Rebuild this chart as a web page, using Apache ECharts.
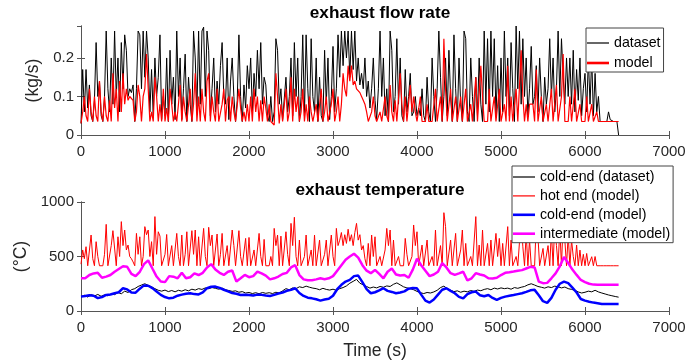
<!DOCTYPE html>
<html><head><meta charset="utf-8">
<script src="https://cdn.jsdelivr.net/npm/echarts@6.0.0/dist/echarts.min.js"></script>
<style>html,body{margin:0;padding:0;background:#fff}#c{width:699px;height:364px}</style>
</head><body><div id="c"></div>
<script>
// ---------------- data ----------------
// exhaust flow rate (kg/s), one value every 20 s; dataset ends with a drop to 0 at 6400 s
const flowStep = 20;
const flowDataset = [
.03,.17,.06,.17,.07,.13,.05,.035,.09,.24,
.1,.14,.05,.035,.1,.27,.12,.06,.2,.08,
.27,.1,.2,.06,.24,.12,.26,.22,.1,.12,
.11,.13,.035,.12,.27,.26,.12,.27,.15,.27,
.2,.06,.17,.05,.2,.1,.15,.26,.04,.1,
.05,.2,.035,.22,.08,.15,.04,.27,.1,.2,
.04,.12,.21,.035,.15,.08,.035,.27,.2,.06,
.27,.08,.27,.28,.1,.27,.22,.05,.12,.2,
.06,.14,.08,.18,.24,.1,.08,.2,.04,.14,
.2,.1,.035,.09,.26,.1,.035,.13,.07,.18,
.12,.2,.06,.16,.1,.22,.12,.24,.08,.15,
.13,.05,.035,.1,.035,.06,.25,.22,.08,.12,
.04,.035,.15,.06,.1,.2,.05,.24,.1,.2,
.035,.1,.26,.05,.26,.12,.035,.25,.1,.06,
.2,.035,.15,.05,.035,.22,.08,.2,.04,.1,
.23,.06,.12,.26,.15,.27,.18,.27,.2,.27,
.15,.27,.17,.27,.14,.2,.13,.16,.12,.2,
.1,.14,.07,.12,.2,.09,.04,.12,.27,.1,
.2,.05,.12,.035,.27,.22,.06,.1,.25,.08,
.2,.05,.035,.17,.06,.1,.16,.05,.06,.1,
.05,.07,.05,.12,.05,.035,.15,.06,.035,.2,
.1,.035,.12,.27,.15,.035,.1,.2,.05,.22,
.1,.035,.26,.12,.035,.2,.08,.035,.27,.25,
.06,.035,.2,.1,.035,.15,.05,.2,.08,.035,
.27,.08,.25,.06,.27,.1,.25,.05,.18,.035,
.2,.06,.27,.1,.2,.05,.24,.12,.035,.283,
.12,.27,.08,.25,.1,.2,.05,.12,.23,.08,
.1,.18,.06,.2,.1,.035,.15,.08,.12,.25,
.1,.2,.06,.12,.27,.1,.25,.15,.08,.2,
.1,.2,.08,.22,.06,.17,.09,.2,.05,.12,
.16,.06,.2,.08,.2,.05,.16,.06,.1,.035,
.035,.035,.035,.035,.06,.04,.035,.035,.035,.035,
.035,0];
const flowModel = [
.03,.06,.1,.05,.035,.12,.06,.035,.1,.05,
.035,.14,.06,.035,.1,.05,.035,.09,.035,.16,
.07,.12,.035,.14,.06,.16,.08,.12,.09,.1,
.095,.09,.035,.06,.13,.1,.035,.1,.12,.21,
.12,.035,.06,.035,.15,.1,.035,.08,.035,.12,
.035,.07,.035,.12,.08,.035,.06,.035,.08,.13,
.035,.1,.06,.035,.035,.12,.035,.08,.16,.035,
.1,.035,.12,.06,.035,.14,.16,.035,.1,.06,
.035,.12,.035,.035,.08,.12,.035,.09,.1,.035,
.1,.06,.035,.035,.12,.07,.035,.06,.035,.08,
.035,.1,.035,.12,.06,.1,.035,.09,.035,.1,
.07,.035,.08,.035,.03,.026,.16,.1,.03,.08,
.035,.035,.12,.035,.06,.15,.035,.12,.06,.1,
.035,.06,.12,.035,.08,.035,.1,.06,.035,.035,
.08,.035,.035,.12,.035,.06,.1,.035,.035,.08,
.12,.035,.06,.1,.035,.08,.16,.12,.1,.18,
.14,.18,.13,.14,.12,.12,.11,.1,.09,.08,
.06,.035,.035,.06,.1,.05,.035,.035,.06,.035,
.035,.1,.05,.035,.13,.06,.035,.09,.035,.035,
.16,.08,.035,.1,.035,.035,.13,.06,.1,.06,
.035,.035,.1,.035,.035,.035,.08,.035,.035,.035,
.035,.12,.035,.035,.1,.035,.25,.12,.035,.035,
.12,.035,.035,.1,.035,.035,.1,.035,.035,.12,
.035,.035,.08,.035,.035,.15,.035,.035,.18,.1,
.035,.035,.035,.12,.035,.035,.1,.035,.035,.12,
.035,.035,.08,.035,.18,.035,.1,.035,.035,.12,
.035,.035,.22,.1,.035,.08,.035,.08,.08,.08,
.035,.17,.035,.035,.1,.035,.035,.08,.035,.035,
.12,.035,.035,.13,.035,.035,.1,.21,.035,.035,
.035,.1,.035,.035,.12,.035,.035,.08,.035,.035,
.035,.1,.035,.035,.08,.035,.035,.06,.035,.035,
.035,.035,.035,.035,.035,.035,.035,.035,.035,.035,
.035];

// exhaust temperature (°C)
const hotStep = 20; // hot end (model), every 20 s
const hotEndModel = [
430,560,480,590,415,415,697,480,415,636,
500,415,415,415,520,795,415,415,600,737,
743,415,681,500,820,600,743,560,605,500,
480,450,415,712,520,681,415,500,774,700,
743,500,636,415,866,520,727,687,415,415,
520,702,415,415,600,415,415,712,500,415,
697,415,520,727,415,415,737,520,743,415,
681,415,415,758,500,415,768,600,697,415,
415,706,415,520,712,415,415,600,415,415,
743,600,415,415,737,500,415,415,666,415,
675,415,415,560,415,415,712,500,415,657,
415,415,415,500,415,758,600,697,415,687,
415,415,727,520,415,804,600,860,500,415,
651,415,415,500,697,415,415,560,415,697,
415,415,651,415,415,520,651,415,415,697,
500,415,758,600,650,720,600,700,620,750,
640,700,600,720,804,650,700,560,600,480,
415,620,415,697,500,681,415,415,500,415,
415,560,758,600,743,415,651,415,415,500,
415,415,415,666,520,415,415,500,789,600,
727,415,415,605,415,415,651,415,415,500,
415,743,415,415,600,415,902,774,415,415,
651,415,415,712,415,415,560,743,415,620,
415,415,500,415,415,866,415,605,415,743,
415,415,620,415,651,415,415,712,500,666,
415,620,415,415,774,415,651,415,415,500,
415,415,851,589,415,712,415,651,415,415,
415,804,681,415,415,574,415,415,600,415,
727,415,804,600,415,760,415,820,650,415,
700,415,650,500,415,605,415,559,415,520,
415,528,415,415,498,415,500,415,415,415,
415,415,415,415,415,415,415,415,415,415,
415];
const coldStep = 40; // cold-end (dataset), every 40 s
const coldEndDataset = [
130,145,128,150,138,152,135,148,140,155,
150,170,158,182,170,195,205,225,238,250,
235,222,205,190,182,192,178,188,176,190,
182,195,185,200,192,205,198,212,205,215,
208,200,210,195,188,180,185,172,178,165,
170,160,168,158,170,162,168,160,172,165,
185,205,195,212,205,222,215,228,218,210,
205,195,208,198,192,200,190,205,215,230,
255,272,290,255,240,225,210,220,212,225,
218,230,225,245,258,240,222,212,205,195,
180,168,160,170,165,175,190,215,228,205,
190,178,185,172,182,176,188,180,192,186,
198,205,195,210,202,212,205,210,200,215,
208,218,225,240,250,238,225,218,210,222,
215,228,222,212,220,205,198,190,175,165,
172,182,176,190,175,165,156,147,140,133,
127];
const modelStep = 50; // cold-end (model) and intermediate (model), every 50 s
const coldEndModel = [
132,138,145,140,118,128,147,152,163,172,
209,198,170,168,205,235,232,210,178,148,
128,116,122,140,150,158,163,155,152,170,
209,222,224,212,195,180,165,158,147,150,
147,142,150,148,142,138,148,160,170,185,
194,209,165,138,122,116,108,95,105,112,
140,200,240,270,286,320,325,265,200,163,
172,190,209,185,175,163,170,180,205,210,
208,150,95,77,105,150,195,209,185,163,
130,116,155,172,178,145,135,147,120,101,
120,132,140,147,155,163,175,190,194,145,
90,75,120,195,250,270,255,215,170,110,
95,85,77,72,65,64,64,64,64];
const intermediateModel = [
301,300,330,345,350,305,315,330,360,385,
410,405,340,320,360,430,465,390,316,270,
265,320,315,300,350,300,310,345,330,350,
400,430,380,350,331,360,372,270,300,331,
310,320,362,345,325,290,300,316,340,350,
400,420,330,290,282,282,290,300,292,300,
320,370,420,470,500,525,490,420,370,347,
377,340,300,360,390,335,325,331,305,380,
480,420,370,320,335,360,440,400,347,331,
345,360,280,300,347,335,325,300,298,305,
330,350,355,362,370,375,390,405,400,270,
255,258,300,345,410,495,440,380,331,285,
265,250,242,240,240,240,240,240,240];

const xTicks = [0, 7000, 1000];      // min, max, step of time axes
const flowTicks = [0, 0.283, 0.1];   // min, max, step of flow axis
const tempTicks = [0, 1000, 500];    // min, max, step of temperature axis

// ---------------- build ----------------
const pairs = (vals, step, end) => vals.map((v, i) => [Math.min(i * step, end), v]);
const FONT = 'Liberation Sans, Arial, sans-serif';
const AX = '#262626';
const plain = v => String(+v.toFixed(3));

function xAxes(g, withName) {
  const base = {
    type: 'value', gridIndex: g, min: xTicks[0], max: xTicks[1], interval: xTicks[2],
    axisLine: {show: true, lineStyle: {color: '#555', width: 1}},
    axisTick: {show: true, inside: true, length: 4, lineStyle: {color: '#555'}},
    splitLine: {show: false}
  };
  const bottom = Object.assign({}, base, {
    position: 'bottom',
    axisLabel: {color: AX, fontSize: 15, fontFamily: FONT, margin: 9, formatter: plain}
  });
  if (withName) Object.assign(bottom, {
    name: 'Time (s)', nameLocation: 'middle', nameGap: 31,
    nameTextStyle: {color: AX, fontSize: 17.5, fontFamily: FONT}
  });
  const top = Object.assign({}, base, {position: 'top', axisLabel: {show: false}});
  return [bottom, top];
}
function yAxes(g, ticks, name, gap) {
  const base = {
    type: 'value', gridIndex: g, min: ticks[0], max: ticks[1], interval: ticks[2],
    axisLine: {show: true, lineStyle: {color: '#555', width: 1}},
    axisTick: {show: true, inside: true, length: 4, lineStyle: {color: '#555'}},
    splitLine: {show: false}
  };
  const left = Object.assign({}, base, {
    position: 'left',
    axisLabel: {color: AX, fontSize: 15, fontFamily: FONT, margin: 7, formatter: plain,
      showMaxLabel: ticks[1] % ticks[2] === 0},
    name: name, nameLocation: 'middle', nameGap: gap, nameRotate: 90,
    nameTextStyle: {color: AX, fontSize: 17.5, fontFamily: FONT}
  });
  const right = Object.assign({}, base, {position: 'right', axisLabel: {show: false}});
  return [left, right];
}

const line = (name, data, xi, color, width) => ({
  name, type: 'line', data, xAxisIndex: xi, yAxisIndex: xi,
  symbol: 'none', showSymbol: false, animation: false,
  lineStyle: {color, width}, itemStyle: {color},
  emphasis: {disabled: true}
});
const thinIcon = 'path://M0 0H22V1.2H0Z';
const thickIcon = 'path://M0 0H22V2.6H0Z';

const legendCommon = {
  orient: 'vertical', itemWidth: 22, itemHeight: 14,
  backgroundColor: '#fff', borderColor: '#444', borderWidth: 1, borderRadius: 0,
  textStyle: {color: '#000', fontSize: 14.2, fontFamily: FONT},
  selectedMode: false
};

const chart = echarts.init(document.getElementById('c'), null, {renderer: 'canvas'});
chart.setOption({
  animation: false,
  backgroundColor: '#fff',
  title: [
    {text: 'exhaust flow rate', left: 375, top: 0, textAlign: 'center',
     textStyle: {fontSize: 17.2, fontWeight: 'bold', color: '#000', fontFamily: FONT}},
    {text: 'exhaust temperature', left: 375, top: 177, textAlign: 'center',
     textStyle: {fontSize: 17.2, fontWeight: 'bold', color: '#000', fontFamily: FONT}}
  ],
  grid: [
    {left: 81, top: 26, width: 588, height: 109},
    {left: 81, top: 202, width: 588, height: 109}
  ],
  xAxis: [...xAxes(0, false), ...xAxes(1, true)],
  yAxis: [...yAxes(0, flowTicks, '(kg/s)', 30), ...yAxes(1, tempTicks, '(°C)', 44)],
  legend: [
    Object.assign({}, legendCommon, {left: 586, top: 28, padding: [8, 3, 2, 1], itemGap: 6,
      data: [{name: 'dataset', icon: thinIcon}, {name: 'model', icon: thickIcon}]}),
    Object.assign({}, legendCommon, {left: 512, top: 166, padding: [4, 3, 2, 1], itemGap: 4.9,
      data: [{name: 'cold-end (dataset)', icon: thinIcon}, {name: 'hot end (model)', icon: thinIcon},
             {name: 'cold-end (model)', icon: thickIcon}, {name: 'intermediate (model)', icon: thickIcon}]})
  ],
  series: [
    line('dataset', pairs(flowDataset, flowStep, 6400), 0, '#000000', 1),
    line('model', pairs(flowModel, flowStep, 6400), 0, '#ff0000', 1.2),
    line('cold-end (dataset)', pairs(coldEndDataset, coldStep, 6400), 2, '#000000', 1),
    line('hot end (model)', pairs(hotEndModel, hotStep, 6400), 2, '#ff0000', 1),
    line('cold-end (model)', pairs(coldEndModel, modelStep, 6400), 2, '#0000ff', 2.5),
    line('intermediate (model)', pairs(intermediateModel, modelStep, 6400), 2, '#ff00ff', 2.5)
  ]
});
</script></body></html>
